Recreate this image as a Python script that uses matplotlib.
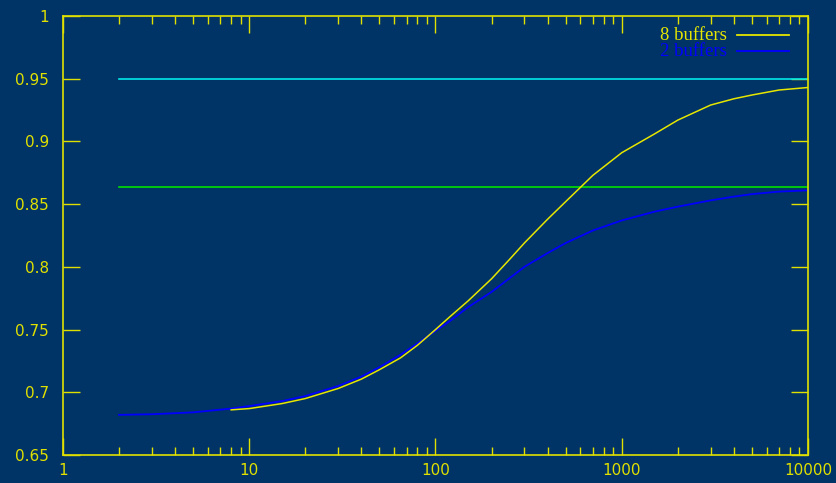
import numpy as np
import matplotlib
matplotlib.use("Agg")
import matplotlib.pyplot as plt
from matplotlib.ticker import LogLocator, FixedLocator, FixedFormatter, NullFormatter
from matplotlib.lines import Line2D

# Hit ratio vs. cache size for two buffer configurations
x_2buf = [2, 3, 5, 8, 10, 15, 20, 30, 40, 50, 65, 80, 100, 120, 150, 200,
          250, 300, 400, 500, 700, 1000, 1500, 2000, 3000, 4000, 5000, 7000,
          10000]
y_2buf = [0.682, 0.6825, 0.684, 0.687, 0.689, 0.693, 0.697, 0.705, 0.7125,
          0.720, 0.730, 0.739, 0.749, 0.757, 0.768, 0.780, 0.791, 0.800,
          0.811, 0.819, 0.829, 0.837, 0.844, 0.848, 0.853, 0.856, 0.858,
          0.860, 0.861]

x_8buf = [8, 10, 15, 20, 30, 40, 50, 65, 80, 100, 120, 150, 200, 250, 300,
          400, 500, 700, 1000, 1500, 2000, 3000, 4000, 5000, 7000, 10000]
y_8buf = [0.686, 0.687, 0.691, 0.695, 0.703, 0.7105, 0.718, 0.7275, 0.7375,
          0.750, 0.7605, 0.773, 0.7905, 0.806, 0.819, 0.838, 0.852, 0.873,
          0.891, 0.906, 0.917, 0.929, 0.934, 0.937, 0.941, 0.943]

# Asymptotic limits
limit_x = [2, 10000]
limit_8buf = 0.95
limit_2buf = 0.864

series_names = ["8 buffers", "2 buffers"]

x_ticks = [1, 10, 100, 1000, 10000]
x_tick_labels = ["1", "10", "100", "1000", "10000"]
y_ticks = [0.65, 0.7, 0.75, 0.8, 0.85, 0.9, 0.95, 1.0]
y_tick_labels = ["0.65", "0.7", "0.75", "0.8", "0.85", "0.9", "0.95", "1"]

BG = "#003366"
AXIS = "#e0e000"
YELLOW = "#e6e600"
BLUE = "#0000ff"
CYAN = "#00e8e8"
GREEN = "#00e000"

W, H = 837, 483
fig = plt.figure(figsize=(W / 100, H / 100), dpi=100, facecolor=BG)
ax = fig.add_axes([63 / W, 1 - 455 / H, (808 - 63) / W, (455 - 16) / H])
ax.set_facecolor(BG)

ax.plot(limit_x, [limit_8buf] * 2, color=CYAN, lw=1.2)
ax.plot(limit_x, [limit_2buf] * 2, color=GREEN, lw=1.2)
ax.plot(x_8buf, y_8buf, color=YELLOW, lw=1.1, zorder=3)
ax.plot(x_2buf, y_2buf, color=BLUE, lw=1.3, zorder=2)

ax.set_xscale("log")
ax.set_xlim(1, 10000)
ax.set_ylim(0.65, 1.0)

ax.xaxis.set_major_locator(FixedLocator(x_ticks))
ax.xaxis.set_major_formatter(FixedFormatter(x_tick_labels))
ax.xaxis.set_minor_locator(LogLocator(base=10, subs=np.arange(2, 10)))
ax.xaxis.set_minor_formatter(NullFormatter())
ax.yaxis.set_major_locator(FixedLocator(y_ticks))
ax.yaxis.set_major_formatter(FixedFormatter(y_tick_labels))

ax.tick_params(which="both", direction="in", top=True, right=True,
               color=AXIS, width=1.0, labelcolor=AXIS, labelsize=11)
ax.tick_params(which="major", length=12, pad=6)
ax.tick_params(which="minor", length=6)
ax.tick_params(axis="y", pad=10)
for sp in ax.spines.values():
    sp.set_color(AXIS)
    sp.set_linewidth(1.2)

# Key, text to the left of the line sample
key_colors = [YELLOW, BLUE]
key_rows = [35, 51]
for name, col, yp in zip(series_names, key_colors, key_rows):
    fig.text(727 / W, 1 - yp / H, name, color=col, ha="right", va="center",
             family="Liberation Serif", fontsize=13.5)
    fig.add_artist(Line2D([737 / W, 789 / W], [1 - yp / H] * 2,
                          color=col, lw=1.3, transform=fig.transFigure))

fig.savefig("out.png", dpi=100, facecolor=BG)
